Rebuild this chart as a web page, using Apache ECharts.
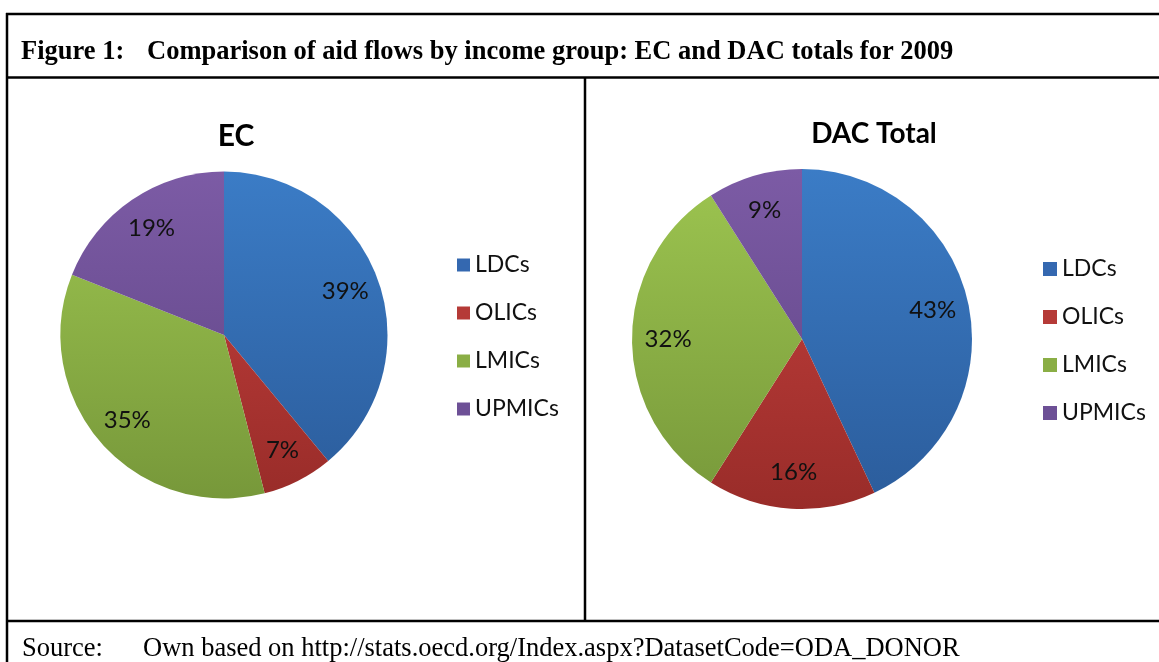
<!DOCTYPE html>
<html>
<head>
<meta charset="utf-8">
<script src="https://cdn.jsdelivr.net/npm/echarts@6/dist/echarts.min.js"></script>
<style>
html,body{margin:0;padding:0;background:#fff;}
#main{width:1159px;height:662px;}
</style>
</head>
<body>
<div id="main"></div>
<script>
const categories = ['LDCs', 'OLICs', 'LMICs', 'UPMICs'];
const ecValues = [39, 7, 35, 19];
const dacValues = [43, 16, 32, 9];
const chartTitles = ['EC', 'DAC Total'];
const figureLabel = 'Figure 1:';
const figureTitle = 'Comparison of aid flows by income group: EC and DAC totals for 2009';
const sourceLabel = 'Source:';
const sourceText = 'Own based on http://stats.oecd.org/Index.aspx?DatasetCode=ODA_DONOR';

const palette = [
  ['#3B7CC6', '#2B5C9B'],
  ['#C8423F', '#992C29'],
  ['#9DC550', '#77983A'],
  ['#7C5BA5', '#5D4383']
];
const solid = ['#3468B0', '#B53A37', '#8AAE45', '#6D5096'];

const pies = [
  {cx: 224, cy: 335, r: 163.5, values: ecValues},
  {cx: 802, cy: 339, r: 170, values: dacValues}
];

function grad(i, p) {
  return {type: 'linear', x: 0, y: p.cy - p.r, x2: 0, y2: p.cy + p.r, global: true,
    colorStops: [{offset: 0, color: palette[i][0]}, {offset: 1, color: palette[i][1]}]};
}

const series = [];
pies.forEach(function (p) {
  series.push({
    type: 'pie', center: [p.cx, p.cy], radius: [0, p.r], startAngle: 90, clockwise: true,
    label: {show: false}, labelLine: {show: false}, silent: true, animation: false,
    itemStyle: {borderWidth: 0},
    data: categories.map(function (c, i) {
      return {name: c, value: p.values[i], itemStyle: {color: grad(i, p)}};
    })
  });
  series.push({
    type: 'pie', center: [p.cx, p.cy], radius: [p.r * 0.54, p.r], startAngle: 90, clockwise: true,
    silent: true, animation: false, legendHoverLink: false,
    itemStyle: {color: 'rgba(0,0,0,0)', borderWidth: 0},
    label: {show: true, position: 'inside', formatter: '{c}%', color: '#111',
      fontFamily: 'Lato', fontSize: 24},
    labelLine: {show: false},
    data: categories.map(function (c, i) { return {name: c + ' ', value: p.values[i]}; })
  });
});

const legendData = categories.map(function (c, i) {
  return {name: c, itemStyle: {color: solid[i]}};
});

const chart = echarts.init(document.getElementById('main'), null, {renderer: 'canvas'});
chart.setOption({
  backgroundColor: '#fff',
  animation: false,
  title: [
    {text: chartTitles[0], left: 231, top: 116, textAlign: 'center',
      textStyle: {fontFamily: 'Lato', fontWeight: 'bold', fontSize: 30, color: '#000'}},
    {text: chartTitles[1], left: 869, top: 115, textAlign: 'center',
      textStyle: {fontFamily: 'Lato', fontWeight: 'bold', fontSize: 28, color: '#000'}}
  ],
  legend: [
    {orient: 'vertical', left: 452, top: 248, itemWidth: 13, itemHeight: 13, itemGap: 24,
      icon: 'rect', selectedMode: false, data: legendData,
      textStyle: {fontFamily: 'Lato', fontSize: 23, color: '#111', lineHeight: 24, padding: [0, 0, 0, 0]}},
    {orient: 'vertical', left: 1038, top: 252, itemWidth: 14, itemHeight: 14, itemGap: 24,
      icon: 'rect', selectedMode: false, data: legendData,
      textStyle: {fontFamily: 'Lato', fontSize: 23, color: '#111', lineHeight: 24, padding: [0, 0, 0, 0]}}
  ],
  series: series,
  graphic: [
    {type: 'line', shape: {x1: 6, y1: 14, x2: 1159, y2: 14}, style: {stroke: '#000', lineWidth: 2.5}},
    {type: 'line', shape: {x1: 6, y1: 77.5, x2: 1159, y2: 77.5}, style: {stroke: '#000', lineWidth: 2.5}},
    {type: 'line', shape: {x1: 6, y1: 621, x2: 1159, y2: 621}, style: {stroke: '#000', lineWidth: 2.5}},
    {type: 'line', shape: {x1: 7, y1: 13, x2: 7, y2: 662}, style: {stroke: '#000', lineWidth: 2.5}},
    {type: 'line', shape: {x1: 585, y1: 77, x2: 585, y2: 621}, style: {stroke: '#000', lineWidth: 2.5}},
    {type: 'text', x: 21, y: 52, style: {text: figureLabel, font: 'bold 26.5px "Liberation Serif"', fill: '#000', align: 'left', verticalAlign: 'middle'}},
    {type: 'text', x: 147, y: 52, style: {text: figureTitle, font: 'bold 26.5px "Liberation Serif"', fill: '#000', align: 'left', verticalAlign: 'middle'}},
    {type: 'text', x: 22, y: 649, style: {text: sourceLabel, font: '26.5px "Liberation Serif"', fill: '#000', align: 'left', verticalAlign: 'middle'}},
    {type: 'text', x: 143, y: 649, style: {text: sourceText, font: '26.5px "Liberation Serif"', fill: '#000', align: 'left', verticalAlign: 'middle'}}
  ]
});
</script>
</body>
</html>
